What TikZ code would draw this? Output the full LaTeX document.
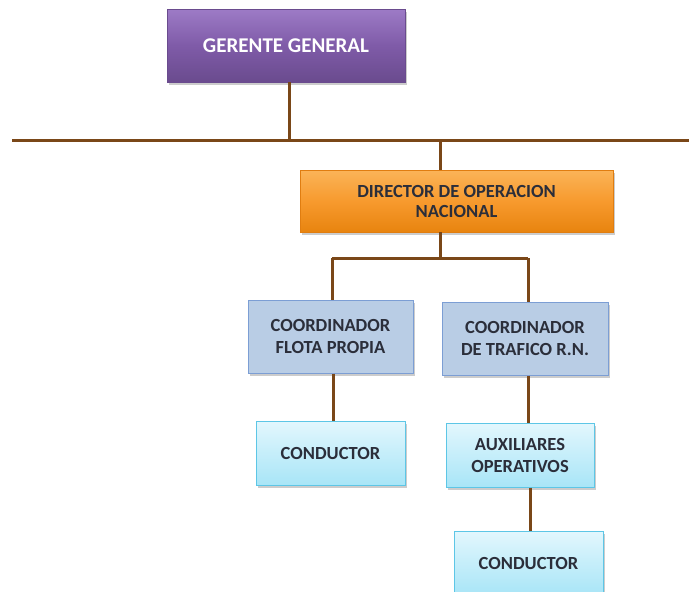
\documentclass[tikz,border=0pt]{standalone}
\usepackage{fontspec}
\setmainfont{Carlito}
\usetikzlibrary{shadows}
\definecolor{linebrown}{HTML}{7A4718}
\definecolor{txtdark}{HTML}{2B2E3A}
\definecolor{purtop}{HTML}{9D7BC6}
\definecolor{purmid}{HTML}{7F5BA8}
\definecolor{purbot}{HTML}{6A4B8E}
\definecolor{ortop}{HTML}{FBB458}
\definecolor{ormid}{HTML}{F79A2E}
\definecolor{orbot}{HTML}{E8840F}
\definecolor{orline}{HTML}{E07D10}
\definecolor{bluefill}{HTML}{B9CDE5}
\definecolor{blueline}{HTML}{7C9ED4}
\definecolor{cytop}{HTML}{E3F7FD}
\definecolor{cybot}{HTML}{A8E5F7}
\definecolor{cyline}{HTML}{5DC6E6}
\tikzset{
  box/.style={rectangle, inner sep=0pt, align=center,
    drop shadow={shadow xshift=2pt, shadow yshift=-3pt, opacity=0.4}},
  purplebox/.style={box, top color=purtop, bottom color=purbot, middle color=purmid,
    draw=purbot, text=white, font=\bfseries\fontsize{21}{24}\selectfont},
  orangebox/.style={box, top color=ortop, bottom color=orbot, middle color=ormid,
    draw=orline, text=txtdark, font=\bfseries\fontsize{18.5}{20}\selectfont},
  bluebox/.style={box, fill=bluefill, draw=blueline, line width=1pt, text=txtdark,
    font=\bfseries\fontsize{18.5}{22}\selectfont},
  cyanbox/.style={box, top color=cytop, bottom color=cybot, draw=cyline, line width=1pt,
    text=txtdark, font=\bfseries\fontsize{18.5}{22}\selectfont},
  conn/.style={draw=linebrown, line width=3pt},
}
\begin{document}
\begin{tikzpicture}[x=1pt,y=-1pt]
\useasboundingbox (0,0) rectangle (689,592);
\begin{scope}
\clip (0,0) rectangle (689,592);
% boxes (centre, size)
\node[purplebox, minimum width=238pt, minimum height=73pt] (gg) at (286,45.5) {GERENTE GENERAL};
\node[orangebox, minimum width=313pt, minimum height=62pt] (dir) at (456.5,201) {DIRECTOR DE OPERACION\\NACIONAL};
\node[bluebox, minimum width=165pt, minimum height=73pt] (cfp) at (330.5,336.5) {COORDINADOR\\FLOTA PROPIA};
\node[bluebox, minimum width=166pt, minimum height=73pt] (ctr) at (525,338.5) {COORDINADOR\\DE TRAFICO R.N.};
\node[cyanbox, minimum width=149pt, minimum height=64pt] (c1) at (330.5,453) {CONDUCTOR};
\node[cyanbox, minimum width=148pt, minimum height=64pt] (aux) at (520,455) {AUXILIARES\\OPERATIVOS};
\node[cyanbox, minimum width=149pt, minimum height=64pt] (c2) at (528.5,563) {CONDUCTOR};
% connector points
\coordinate (hl) at (12,140);
\coordinate (hr) at (689,140);
\coordinate (gbus) at (289,140);
\coordinate (dbus) at (440,140);
\coordinate (bl) at (332,258);
\coordinate (br) at (528,258);
\coordinate (bm) at (440,258);
\end{scope}
\draw[conn] (hl) -- (hr);
\draw[conn] (gg.south -| gbus) -- (gbus);
\draw[conn] (dbus) -- (dir.north -| dbus);
\draw[conn] (dir.south -| bm) -- (bm);
\draw[conn] (bl) -- (br);
\draw[conn] (bl) -- (cfp.north -| bl);
\draw[conn] (br) -- (ctr.north -| br);
\draw[conn] (cfp.south -| 333,0) -- (c1.north -| 333,0);
\draw[conn] (ctr.south -| 528,0) -- (aux.north -| 528,0);
\draw[conn] (aux.south -| 530,0) -- (c2.north -| 530,0);
\end{tikzpicture}
\end{document}
